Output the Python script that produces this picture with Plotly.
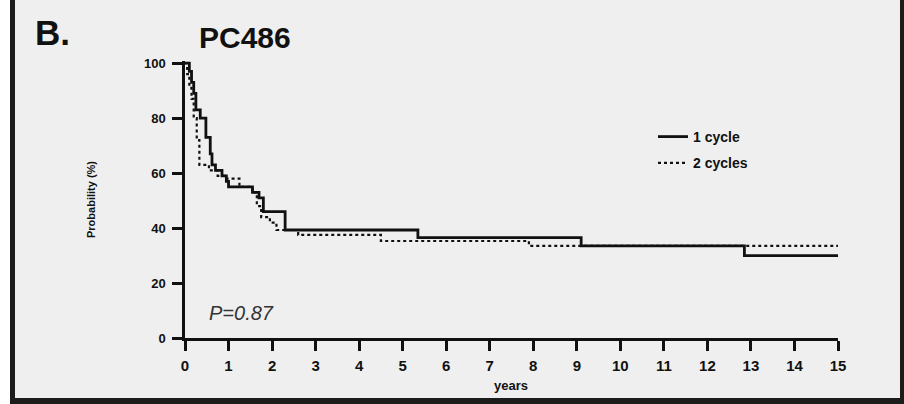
import plotly.graph_objects as go

# ---- data ----
years_1cycle = [0, 0.10, 0.15, 0.20, 0.25, 0.35, 0.48, 0.58, 0.62, 0.70, 0.85, 0.95, 1.00, 1.55, 1.70, 1.80, 2.30, 5.35, 9.10, 12.85, 15.0]
surv_1cycle  = [100, 97, 93, 89, 83, 80, 73, 67, 63, 61, 59, 57, 55, 53, 51, 46, 39.3, 36.5, 33.5, 30, 30]

years_2cycles = [0, 0.05, 0.10, 0.15, 0.20, 0.27, 0.33, 0.55, 0.75, 0.95, 1.25, 1.55, 1.65, 1.75, 1.95, 2.10, 2.60, 4.50, 7.90, 15.0]
surv_2cycles  = [100, 96, 91, 87, 80, 72, 63, 61, 59, 58, 55, 53, 48, 44, 42, 39.3, 37.5, 35.3, 33.5, 33.5]

x_ticks = list(range(0, 16))
y_ticks = [0, 20, 40, 60, 80, 100]

INK = "#111111"
FONT = "Arial, Liberation Sans, sans-serif"

fig = go.Figure()
fig.add_trace(go.Scatter(x=years_1cycle, y=surv_1cycle, mode="lines", name="1 cycle",
                         line=dict(shape="hv", color=INK, width=2.8), legendgroup="a"))
fig.add_trace(go.Scatter(x=years_2cycles, y=surv_2cycles, mode="lines", name="2 cycles",
                         line=dict(shape="hv", color=INK, width=2.2, dash="dot"), legendgroup="b"))

W, H = 904, 404
L, R, T, B = 185, 66, 61, 66
pw, ph = W - L - R, H - T - B

def px_x(p):
    return (p - L) / pw

def px_y(p):
    return (H - B - p) / ph

shapes = [
    dict(type="rect", xref="paper", yref="paper", x0=px_x(-5), x1=px_x(10), y0=px_y(-10), y1=px_y(410),
         fillcolor="white", line=dict(width=0), layer="below"),
    dict(type="rect", xref="paper", yref="paper", x0=px_x(10), x1=px_x(15), y0=px_y(-10), y1=px_y(410),
         fillcolor="#1c1c1c", line=dict(width=0), layer="below"),
    dict(type="rect", xref="paper", yref="paper", x0=px_x(900), x1=px_x(910), y0=px_y(-10), y1=px_y(410),
         fillcolor="#1c1c1c", line=dict(width=0), layer="below"),
    dict(type="rect", xref="paper", yref="paper", x0=px_x(10), x1=px_x(910), y0=px_y(398), y1=px_y(410),
         fillcolor="#1c1c1c", line=dict(width=0), layer="below"),
]

annotations = [
    dict(text="<b>B.</b>", x=px_x(33), y=px_y(33), xref="paper", yref="paper", xanchor="left", yanchor="middle",
         showarrow=False, font=dict(family=FONT, size=35, color=INK)),
    dict(text="<b>PC486</b>", x=px_x(197), y=px_y(38), xref="paper", yref="paper", xanchor="left", yanchor="middle",
         showarrow=False, font=dict(family=FONT, size=30, color=INK)),
    dict(text="<i>P=0.87</i>", x=px_x(207), y=px_y(313), xref="paper", yref="paper", xanchor="left", yanchor="middle",
         showarrow=False, font=dict(family=FONT, size=20, color="#333333")),
    dict(text="<b>years</b>", x=px_x(511), y=px_y(385), xref="paper", yref="paper", xanchor="center", yanchor="middle",
         showarrow=False, font=dict(family=FONT, size=13, color=INK)),
    dict(text="<b>Probability (%)</b>", x=px_x(91), y=px_y(200), xref="paper", yref="paper", xanchor="center",
         yanchor="middle", textangle=-90, showarrow=False, font=dict(family=FONT, size=11, color=INK)),
]

fig.update_layout(
    width=W, height=H,
    margin=dict(l=L, r=R, t=T, b=B),
    paper_bgcolor="#efefef",
    plot_bgcolor="rgba(0,0,0,0)",
    shapes=shapes,
    annotations=annotations,
    showlegend=True,
    legend=dict(x=px_x(653), y=px_y(121), xanchor="left", yanchor="top", bgcolor="rgba(0,0,0,0)",
                font=dict(family=FONT, size=14, color=INK, weight="bold"), tracegroupgap=5,
                itemwidth=30),
    xaxis=dict(range=[0, 15], tickvals=x_ticks, ticktext=[str(v) for v in x_ticks],
               showline=True, linecolor=INK, linewidth=2.5, ticks="outside", ticklen=10, tickwidth=2.5,
               tickcolor=INK, showgrid=False, zeroline=False, ticklabelstandoff=2,
               tickfont=dict(family=FONT, size=15, color=INK, weight="bold")),
    yaxis=dict(range=[0, 100.8], tickvals=y_ticks, ticktext=[str(v) for v in y_ticks],
               showline=True, linecolor=INK, linewidth=2.5, ticks="outside", ticklen=10, tickwidth=2.5,
               tickcolor=INK, showgrid=False, zeroline=False, ticklabelstandoff=4,
               tickfont=dict(family=FONT, size=13, color=INK, weight="bold")),
)

fig.write_html("out.html")
